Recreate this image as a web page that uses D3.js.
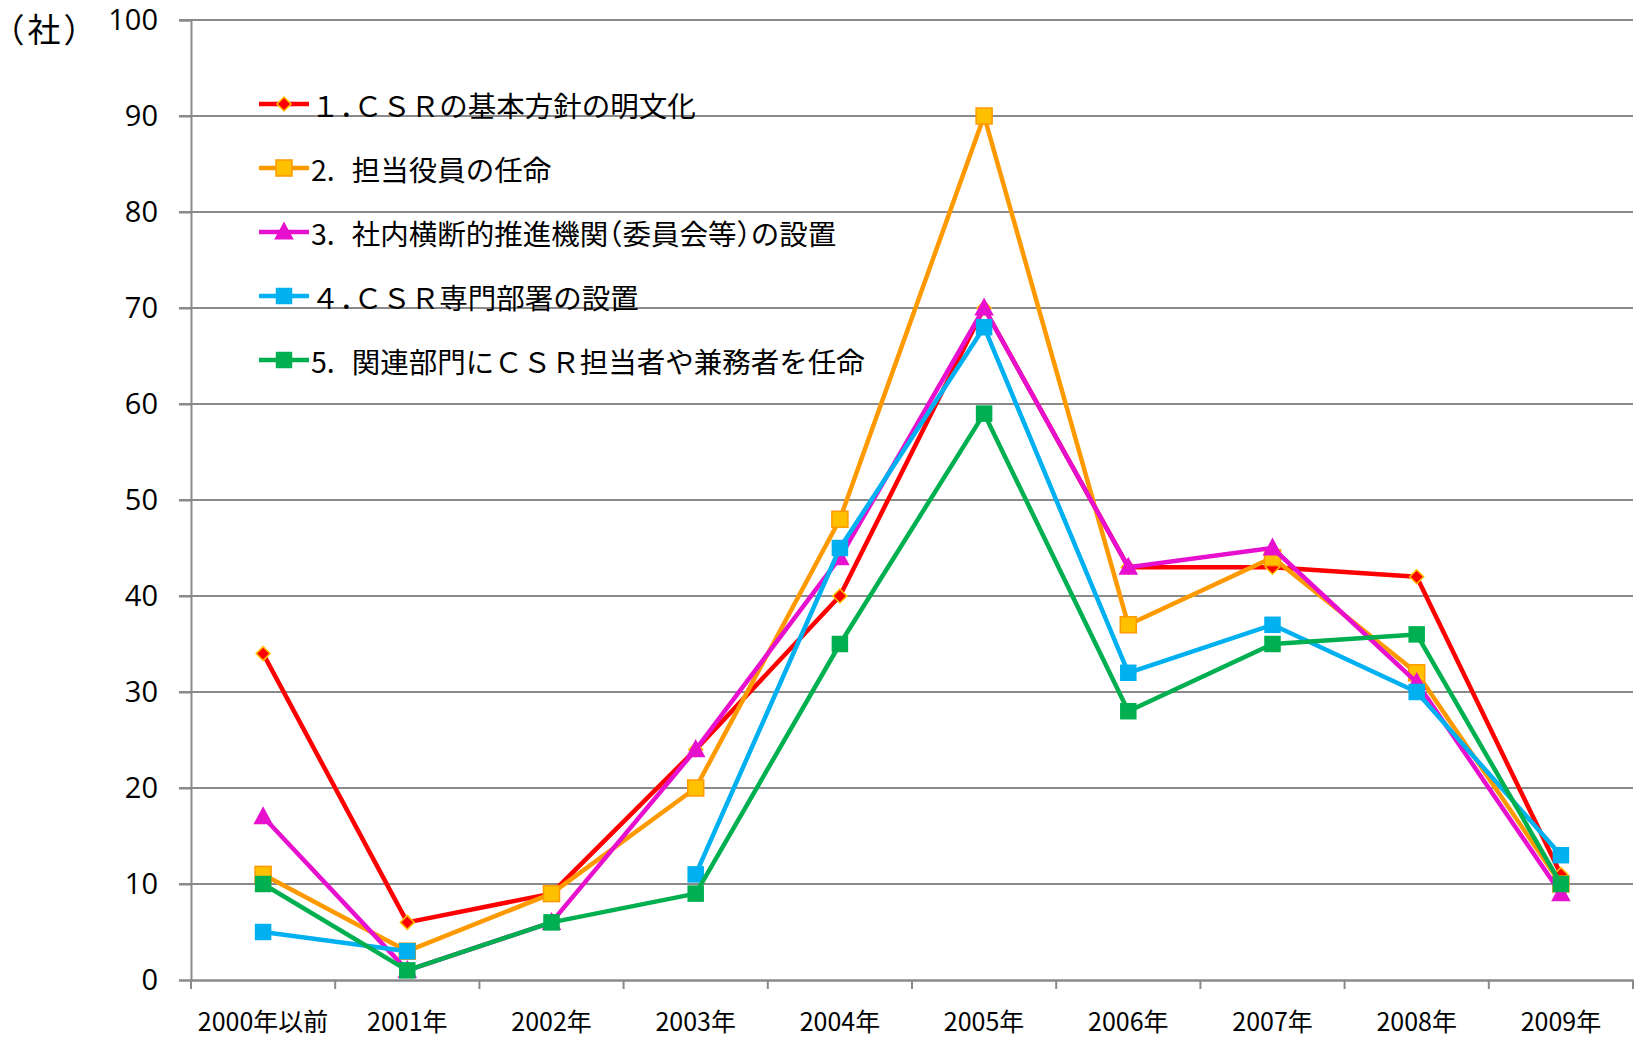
<!DOCTYPE html>
<html><head><meta charset="utf-8">
<script src="https://cdn.jsdelivr.net/npm/d3@7"></script>
<style>
html,body{margin:0;padding:0;background:#fff;}
svg{display:block;}
</style></head>
<body>
<svg id="chart" width="1635" height="1038"></svg>
<script>
const categories = ["2000年以前","2001年","2002年","2003年","2004年","2005年","2006年","2007年","2008年","2009年"];
const yTicks = [0,10,20,30,40,50,60,70,80,90,100];
const unitLabel = "（社）";
const seriesPrefix = ["１．", "2.", "3.", "４．", "5."];
const seriesNames = [
  "ＣＳＲの基本方針の明文化",
  "担当役員の任命",
  "社内横断的推進機関（委員会等）の設置",
  "ＣＳＲ専門部署の設置",
  "関連部門にＣＳＲ担当者や兼務者を任命"
];
const s1 = [34, 6, 9, 24, 40, 70, 43, 43, 42, 11];
const s2 = [11, 3, 9, 20, 48, 90, 37, 44, 32, 10];
const s3 = [17, 1, 6, 24, 44, 70, 43, 45, 31, 9];
const s4 = [5, 3, null, 11, 45, 68, 32, 37, 30, 13];
const s5 = [10, 1, 6, 9, 35, 59, 28, 35, 36, 10];

const seriesValues = [s1, s2, s3, s4, s5];
const lineColors = ["#FF0000", "#FF9900", "#E810CF", "#00B0F0", "#00B050"];
const markerFill = ["#FF0000", "#FFC000", "#E810CF", "#00B0F0", "#00B050"];
const markerStroke = ["#FFC000", "#FF9900", "#E810CF", "#00B0F0", "#00B050"];
const markerType = ["diamond", "square", "triangle", "square", "square"];
const markerSize = [7, 8, 8.5, 7.5, 7.5];

const svg = d3.select("#chart");
const L = 191, R = 1633, T = 20, B = 980;
const x = d3.scaleBand().domain(categories).range([L, R]).padding(0);
const y = d3.scaleLinear().domain([0, 100]).range([B, T]);
const cx = c => x(c) + x.bandwidth() / 2;
const gray = "#8A8A8A";

// gridlines
svg.append("g").selectAll("line").data(yTicks.filter(v => v > 0)).join("line")
  .attr("x1", L - 12).attr("x2", R).attr("y1", d => y(d)).attr("y2", d => y(d))
  .attr("stroke", gray).attr("stroke-width", 2);

// y axis
const yAxis = svg.append("g").attr("transform", `translate(${L},0)`)
  .call(d3.axisLeft(y).tickValues(yTicks).tickSize(12).tickPadding(21).tickFormat(d3.format("d")));
yAxis.select(".domain").attr("stroke", gray).attr("stroke-width", 2);
yAxis.selectAll(".tick line").attr("stroke", gray).attr("stroke-width", 2);
yAxis.selectAll(".tick text").attr("font-family", "'Open Sans', sans-serif").attr("font-size", 29).attr("fill", "#000");

// x axis
const xAxis = svg.append("g").attr("transform", `translate(0,${B})`)
  .call(d3.axisBottom(x).tickSize(0).tickPadding(33));
xAxis.select(".domain").attr("stroke", gray).attr("stroke-width", 2.5);
xAxis.selectAll(".tick text").attr("font-family", "'Noto Sans CJK JP', sans-serif").attr("font-size", 25).attr("fill", "#000");
const bounds = categories.map(c => x(c)).concat([R]);
svg.append("g").selectAll("line").data(bounds).join("line")
  .attr("x1", d => d).attr("x2", d => d).attr("y1", B).attr("y2", B + 9)
  .attr("stroke", gray).attr("stroke-width", 2);

// unit label
const ut = svg.append("text").attr("x", 8).attr("y", 28)
  .attr("dominant-baseline", "central").attr("letter-spacing", 3)
  .attr("font-family", "'Noto Sans CJK JP', sans-serif").attr("font-size", 33);
unitLabel.split("").forEach(ch => {
  const ts = ut.append("tspan").text(ch);
  if (ch === "（" || ch === "）") ts.style("font-feature-settings", "'halt'");
});

function marker(g, type, r, fill, stroke) {
  if (type === "diamond") {
    g.append("path").attr("d", `M0,${-r}L${r},0L0,${r}L${-r},0Z`)
      .attr("fill", fill).attr("stroke", stroke).attr("stroke-width", 1.5);
  } else if (type === "square") {
    g.append("rect").attr("x", -r).attr("y", -r).attr("width", 2 * r).attr("height", 2 * r)
      .attr("fill", fill).attr("stroke", stroke).attr("stroke-width", 1.5);
  } else {
    g.append("path").attr("d", `M0,${-r * 1.05}L${r},${r * 0.8}L${-r},${r * 0.8}Z`)
      .attr("fill", fill).attr("stroke", stroke).attr("stroke-width", 1.5);
  }
}

// series
const line = d3.line().defined(d => d.v != null).x(d => cx(d.c)).y(d => y(d.v));
seriesValues.forEach((vals, i) => {
  const pts = categories.map((c, j) => ({ c, v: vals[j] }));
  const g = svg.append("g");
  g.append("path").datum(pts).attr("d", line).attr("fill", "none")
    .attr("stroke", lineColors[i]).attr("stroke-width", 4.5).attr("stroke-linejoin", "round");
  pts.filter(p => p.v != null).forEach(p => {
    const mg = g.append("g").attr("transform", `translate(${cx(p.c)},${y(p.v)})`);
    marker(mg, markerType[i], markerSize[i], markerFill[i], markerStroke[i]);
  });
});

// legend
const legY = [104, 168, 232, 296, 360];
seriesNames.forEach((name, i) => {
  const g = svg.append("g").attr("transform", `translate(0,${legY[i]})`);
  g.append("line").attr("x1", 259).attr("x2", 309).attr("y1", 0).attr("y2", 0)
    .attr("stroke", lineColors[i]).attr("stroke-width", 4.5);
  const mg = g.append("g").attr("transform", "translate(284,0)");
  marker(mg, markerType[i], markerSize[i], markerFill[i], markerStroke[i]);
  const t = g.append("text").attr("x", 311).attr("y", 0).attr("dominant-baseline", "central")
    .attr("font-family", "'Noto Sans CJK JP', sans-serif").attr("font-size", 28.5).attr("fill", "#000");
  const pre = seriesPrefix[i];
  const fullWidth = pre.includes("．");
  if (fullWidth) {
    t.append("tspan").text(pre[0]);
    t.append("tspan").text(pre[1]).style("font-feature-settings", "'halt'");
  } else {
    t.append("tspan").text(pre);
  }
  const parts = name.split(/([（）])/).filter(s => s.length);
  parts.forEach((p, k) => {
    const ts = t.append("tspan").text(p);
    if (k === 0 && !fullWidth) ts.attr("dx", 17);
    if (p === "（" || p === "）") ts.style("font-feature-settings", "'halt'");
  });
});
</script>
</body></html>
